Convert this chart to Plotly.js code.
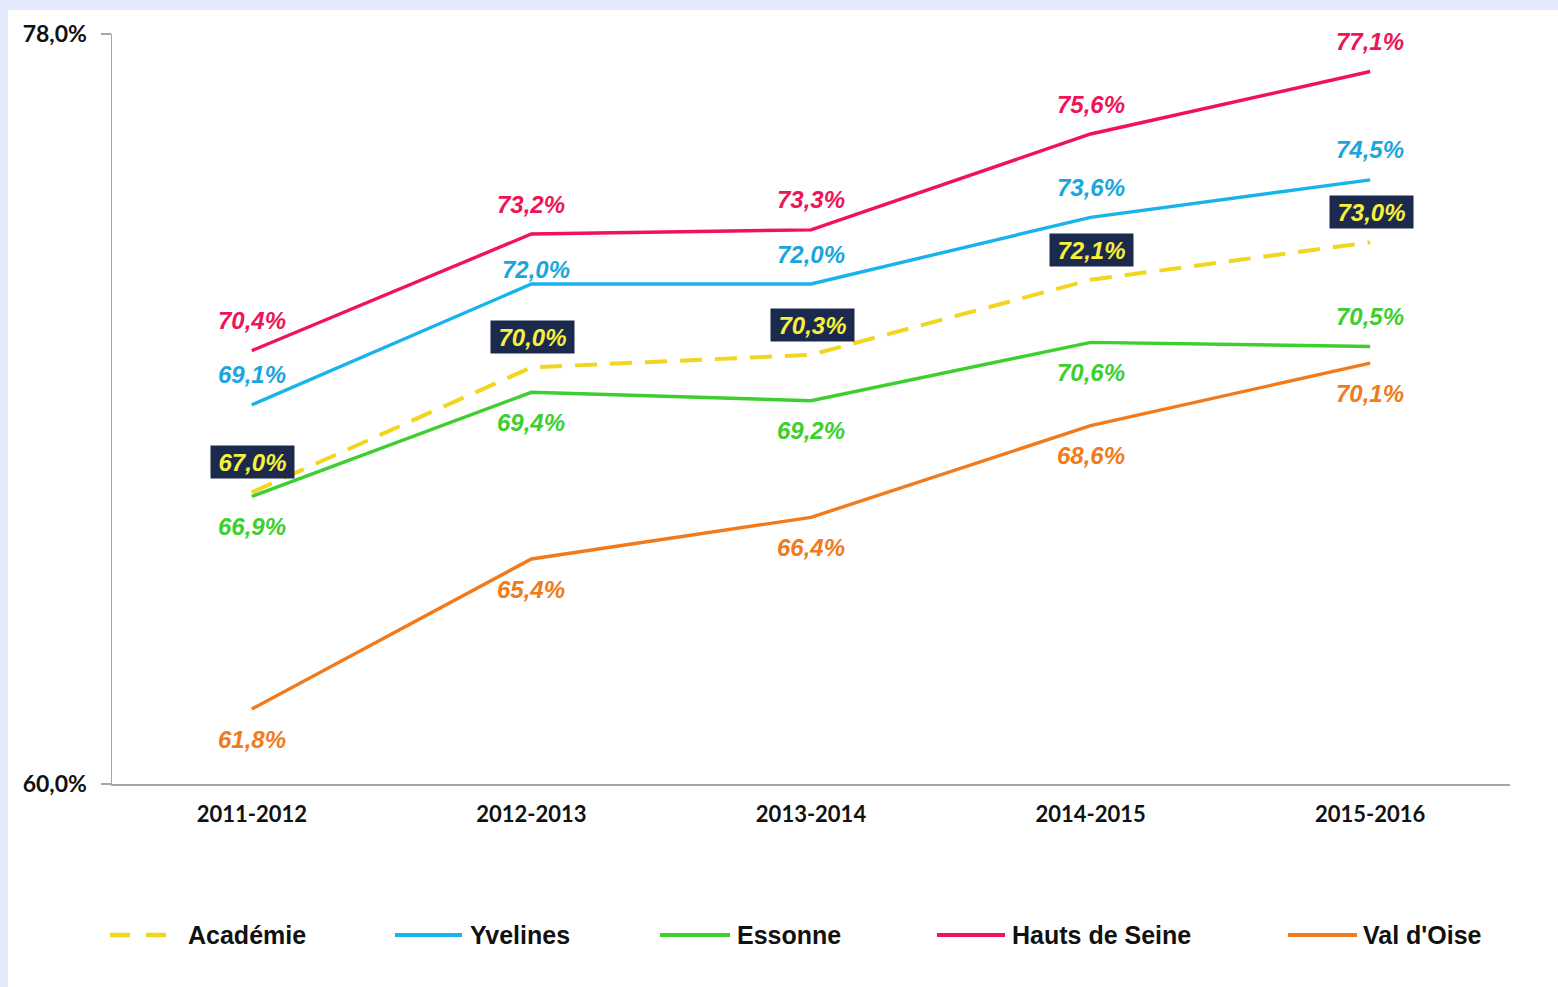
<!DOCTYPE html>
<html>
<head>
<meta charset="utf-8">
<script src="https://cdn.plot.ly/plotly-3.0.1.min.js"></script>
<style>
  html, body { margin: 0; padding: 0; background: #e4e9fb; width: 1558px; height: 987px; overflow: hidden; }
  #chart { position: absolute; left: 8px; top: 10px; width: 1550px; height: 977px; background: #ffffff; }
</style>
</head>
<body>
<div id="chart"></div>
<script>
// ---- Data ----
const years = ["2011-2012", "2012-2013", "2013-2014", "2014-2015", "2015-2016"];
const academie = [67.0, 70.0, 70.3, 72.1, 73.0];
const yvelines = [69.1, 72.0, 72.0, 73.6, 74.5];
const essonne = [66.9, 69.4, 69.2, 70.6, 70.5];
const hautsDeSeine = [70.4, 73.2, 73.3, 75.6, 77.1];
const valDOise = [61.8, 65.4, 66.4, 68.6, 70.1];
const seriesNames = ["Académie", "Yvelines", "Essonne", "Hauts de Seine", "Val d'Oise"];
const yTickVals = [60, 78];
const yTickText = ["60,0%", "78,0%"];

// ---- Styles ----
const colors = {
  "Académie": "#f2d51e",
  "Yvelines": "#19b3ec",
  "Essonne": "#3ccf2e",
  "Hauts de Seine": "#f0125a",
  "Val d'Oise": "#f07a1c"
};
const labelColors = {
  "Académie": "#f7f03c",
  "Yvelines": "#1aa6dc",
  "Essonne": "#3ccf2e",
  "Hauts de Seine": "#ee1457",
  "Val d'Oise": "#f07a1c"
};
// label side per point: +1 above, -1 below
const labelSide = {
  "Académie": [1, 1, 1, 1, 1],
  "Yvelines": [1, 1, 1, 1, 1],
  "Essonne": [-1, -1, -1, -1, 1],
  "Hauts de Seine": [1, 1, 1, 1, 1],
  "Val d'Oise": [-1, -1, -1, -1, -1]
};
const seriesData = {
  "Académie": academie,
  "Yvelines": yvelines,
  "Essonne": essonne,
  "Hauts de Seine": hautsDeSeine,
  "Val d'Oise": valDOise
};

function fmt(v) { return v.toFixed(1).replace(".", ",") + "%"; }

const drawOrder = ["Val d'Oise", "Essonne", "Yvelines", "Hauts de Seine", "Académie"];
const traces = drawOrder.map(name => ({
  type: "scatter",
  mode: "lines",
  name: name,
  x: years,
  y: seriesData[name],
  line: {
    color: colors[name],
    width: name === "Académie" ? 4 : 3.4,
    dash: name === "Académie" ? "22px,13px" : "solid"
  },
  showlegend: false,
  hoverinfo: "skip"
}));

const annotations = [];
seriesNames.forEach(name => {
  const vals = seriesData[name];
  vals.forEach((v, i) => {
    const isAcad = name === "Académie";
    const a = {
      x: years[i],
      y: v,
      xref: "x",
      yref: "y",
      text: "<b><i>" + fmt(v) + "</i></b>",
      showarrow: false,
      yshift: labelSide[name][i] * 30,
      font: { family: "Liberation Sans, Arial, sans-serif", size: 24, color: labelColors[name] }
    };
    if (name === "Yvelines" && i === 1) { a.yshift = 15; a.xshift = 5; }
    if (isAcad) {
      a.bgcolor = "#1b2a4c";
      a.borderpad = 3;
      a.width = 77;
      a.height = 26;
      a.xshift = 1;
    }
    annotations.push(a);
  });
});

// ---- Custom legend (paper coords helper from page pixels) ----
function px(xPage) { return (xPage - 112) / 1398; }
function py(yPage) { return (784 - yPage) / 750; }
const legendItems = [
  { name: "Académie", x0: 110, x1: 166, tx: 186 },
  { name: "Yvelines", x0: 395, x1: 462, tx: 468 },
  { name: "Essonne", x0: 660, x1: 730, tx: 735 },
  { name: "Hauts de Seine", x0: 937, x1: 1005, tx: 1010 },
  { name: "Val d'Oise", x0: 1288, x1: 1357, tx: 1361 }
];
const shapes = [];
legendItems.forEach(it => {
  if (it.name === "Académie") {
    shapes.push({ type: "line", xref: "paper", yref: "paper", x0: px(110), x1: px(130), y0: py(935), y1: py(935), line: { color: colors[it.name], width: 4.5 } });
    shapes.push({ type: "line", xref: "paper", yref: "paper", x0: px(146), x1: px(166), y0: py(935), y1: py(935), line: { color: colors[it.name], width: 4.5 } });
  } else {
    shapes.push({ type: "line", xref: "paper", yref: "paper", x0: px(it.x0), x1: px(it.x1), y0: py(935), y1: py(935), line: { color: colors[it.name], width: 3.8 } });
  }
  annotations.push({
    xref: "paper", yref: "paper", x: px(it.tx), y: py(935),
    xanchor: "left", yanchor: "middle", showarrow: false,
    text: "<b>" + it.name + "</b>",
    font: { family: "Liberation Sans, Arial, sans-serif", size: 25, color: "#111111" }
  });
});

const layout = {
  width: 1550,
  height: 977,
  paper_bgcolor: "#ffffff",
  plot_bgcolor: "#ffffff",
  margin: { l: 104, r: 48, t: 24, b: 203 },
  showlegend: false,
  xaxis: {
    type: "category",
    range: [-0.5, 4.5],
    showgrid: false,
    zeroline: false,
    showline: true,
    linecolor: "#a6a6a6",
    linewidth: 1.5,
    ticks: "",
    ticklabelstandoff: 10,
    tickfont: { family: "Lato, Carlito, sans-serif", size: 22, color: "#111111", weight: "bold" },
    fixedrange: true
  },
  yaxis: {
    range: [60, 78],
    tickvals: yTickVals,
    ticktext: yTickText,
    showgrid: false,
    zeroline: false,
    showline: true,
    linecolor: "#a6a6a6",
    linewidth: 1.5,
    ticks: "outside",
    ticklen: 10,
    tickwidth: 1.5,
    tickcolor: "#a6a6a6",
    ticklabelstandoff: 9,
    tickfont: { family: "Lato, Carlito, sans-serif", size: 23, color: "#111111", weight: "bold" },
    fixedrange: true
  },
  annotations: annotations,
  shapes: shapes
};

Plotly.newPlot("chart", traces, layout, { displayModeBar: false, staticPlot: true });
</script>
</body>
</html>
